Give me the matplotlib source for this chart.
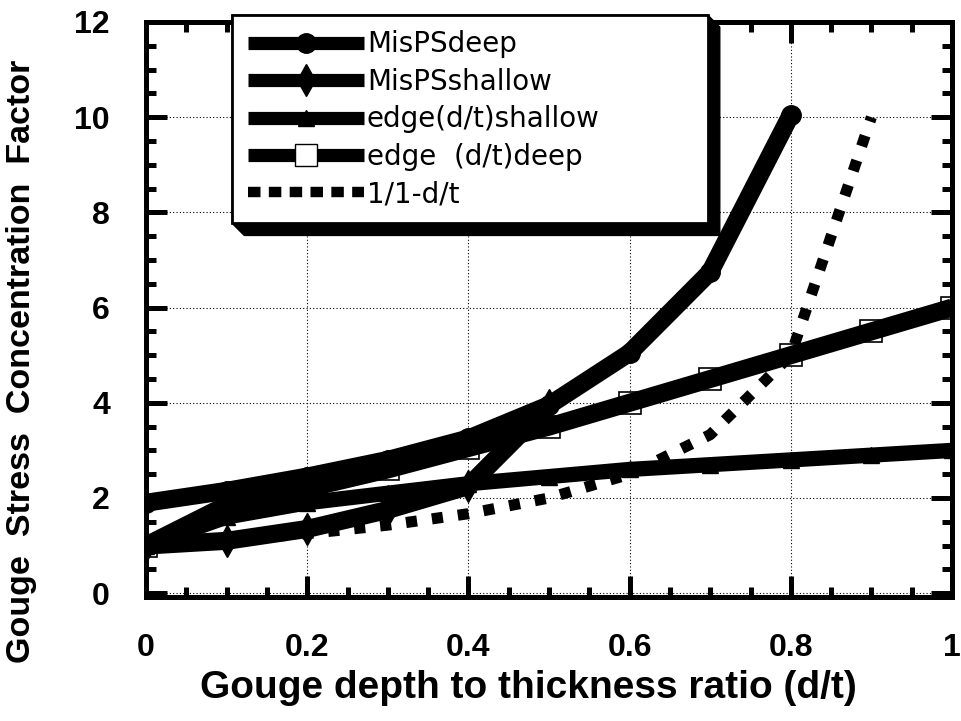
"""Gouge stress concentration factor versus gouge depth ratio."""

import matplotlib

matplotlib.use("Agg")

import matplotlib.pyplot as plt
from matplotlib.patches import Polygon
from matplotlib.ticker import MultipleLocator

# MisPS results (circles / diamonds)
depth_mis_deep = [0.0, 0.1, 0.2, 0.3, 0.4, 0.5, 0.6, 0.7, 0.8]
scf_mis_deep = [1.9, 2.15, 2.45, 2.8, 3.25, 3.95, 5.05, 6.75, 10.05]

depth_mis_shallow = [0.0, 0.1, 0.2, 0.3, 0.4, 0.5]
scf_mis_shallow = [1.0, 1.1, 1.35, 1.75, 2.25, 3.95]

# edge-crack estimates
depth_edge = [0.0, 0.1, 0.2, 0.3, 0.4, 0.5, 0.6, 0.7, 0.8, 0.9, 1.0]
scf_edge_shallow = [1.0, 1.6, 1.9, 2.1, 2.3, 2.45, 2.6, 2.7, 2.8, 2.9, 3.0]
scf_edge_deep = [1.0, 1.85, 2.2, 2.6, 3.05, 3.5, 4.0, 4.5, 5.0, 5.5, 6.0]

# net-section reference 1/(1-d/t)
depth_net = [0.0, 0.1, 0.2, 0.3, 0.4, 0.5, 0.6, 0.7, 0.8, 0.9]
scf_net = [1.0, 1.11, 1.25, 1.43, 1.67, 2.0, 2.5, 3.33, 5.0, 10.0]

labels = ["MisPSdeep", "MisPSshallow", "edge(d/t)shallow", "edge  (d/t)deep", "1/1-d/t"]
x_ticks = [0.0, 0.2, 0.4, 0.6, 0.8, 1.0]
x_tick_labels = ["0", "0.2", "0.4", "0.6", "0.8", "1"]
y_ticks = [0, 2, 4, 6, 8, 10, 12]
y_tick_labels = ["0", "2", "4", "6", "8", "10", "12"]

W, H = 961, 721
fig = plt.figure(figsize=(W / 100, H / 100), dpi=100)
left, right, top, bottom = 146, 952, 22, 597
ax = fig.add_axes([left / W, 1 - bottom / H, (right - left) / W, (bottom - top) / H])

lw = 13
# open squares sit underneath their own line
ax.plot(depth_edge, scf_edge_deep, linestyle="none", marker="s", markersize=16,
        markerfacecolor="white", markeredgecolor="black", markeredgewidth=1.2, zorder=2)
net, = ax.plot(depth_net, scf_net, color="black", lw=8, dashes=(1.0, 1.35),
               dash_capstyle="butt", zorder=2.1, label=labels[4])
edge_deep, = ax.plot(depth_edge, scf_edge_deep, color="black", lw=lw,
                     solid_capstyle="butt", zorder=2.2, label=labels[3])
edge_shallow, = ax.plot(depth_edge, scf_edge_shallow, color="black", lw=11, marker="^",
                        markersize=12, solid_capstyle="butt", zorder=2.3, label=labels[2])
mis_shallow, = ax.plot(depth_mis_shallow, scf_mis_shallow, color="black", lw=lw, marker="d",
                       markersize=16, solid_capstyle="butt", zorder=2.4, label=labels[1])
mis_deep, = ax.plot(depth_mis_deep, scf_mis_deep, color="black", lw=lw, marker="o",
                    markersize=14, solid_capstyle="butt", zorder=2.5, label=labels[0])

tick_font = dict(fontfamily="Liberation Sans", fontweight="bold", fontsize=23)
ax.set_xlim(0, 1)
ax.set_ylim(-0.08, 12)
ax.set_xticks(x_ticks)
ax.set_xticklabels(x_tick_labels, **tick_font)
ax.set_yticks(y_ticks)
ax.set_yticklabels(y_tick_labels, **tick_font)
ax.xaxis.set_minor_locator(MultipleLocator(0.05))
ax.yaxis.set_minor_locator(MultipleLocator(0.5))
ax.tick_params(which="both", direction="in", top=True, right=True, color="black")
ax.tick_params(which="major", length=15, width=3.6)
ax.tick_params(which="minor", length=7.5, width=3.6)
ax.tick_params(axis="x", which="major", pad=26)
ax.tick_params(axis="y", which="major", pad=26)
for side in ax.spines.values():
    side.set_linewidth(3.6)

ax.grid(True, which="major", color="black", linestyle=(0, (1, 2)), linewidth=0.8)

ax.set_xlabel("Gouge depth to thickness ratio (d/t)", fontfamily="Liberation Sans",
              fontweight="bold", fontsize=28, va="top")
ax.xaxis.set_label_coords(0.475, -0.127)
ax.set_ylabel("Gouge  Stress  Concentration  Factor", fontfamily="Liberation Sans",
              fontweight="bold", fontsize=24.5)
ax.yaxis.set_label_coords(-0.135, 0.41)

handles = [mis_deep, mis_shallow, edge_shallow, edge_deep, net]
leg = ax.legend(handles, labels, loc="upper left", mode="expand",
                bbox_to_anchor=(0.107, 0.5, 0.59, 0.512), borderaxespad=0,
                fontsize=20, handlelength=4.2, handletextpad=0.1, labelspacing=0.34,
                borderpad=0.55, numpoints=1, fancybox=False, framealpha=1,
                edgecolor="black")
leg.get_frame().set_linewidth(2)
leg.set_zorder(6)
leg_lines = leg.get_lines()
for line in leg_lines:
    line.set_linewidth(9.5)
leg_lines[3].set_marker("s")
leg_lines[3].set_markersize(16)
leg_lines[3].set_markerfacecolor("white")
leg_lines[3].set_markeredgecolor("black")
leg_lines[4].set_linewidth(7.5)
leg_lines[4].set_dashes((1.2, 0.8))

# drop shadow along the right and bottom of the legend box
fig.canvas.draw()
bb = leg.get_window_extent()
d = 12
pts = [(bb.x0, bb.y1), (bb.x1, bb.y1), (bb.x1 + d, bb.y1 - d),
       (bb.x1 + d, bb.y0 - d), (bb.x0 + d, bb.y0 - d), (bb.x0, bb.y0)]
pts = ax.transAxes.inverted().transform(pts)
ax.add_patch(Polygon(pts, closed=True, facecolor="black", edgecolor="black",
                     transform=ax.transAxes, clip_on=False, zorder=5.9))

fig.savefig("out.png", dpi=100)
